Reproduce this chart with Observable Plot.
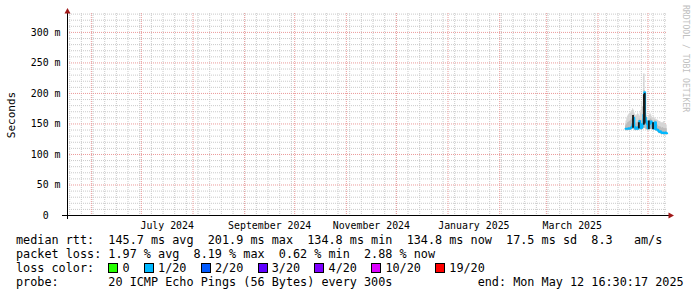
<!DOCTYPE html>
<html><head><meta charset="utf-8">
<script src="https://cdn.jsdelivr.net/npm/d3@7"></script>
<script src="https://cdn.jsdelivr.net/npm/@observablehq/plot@0.6"></script>
<style>
body{margin:0;background:#fff;}
#legend{font-family:"DejaVu Sans Mono",monospace;font-size:11.8px;line-height:13.7px;white-space:pre;color:#000;padding-left:16px;padding-top:0.4px;}
.box{display:inline-block;width:8px;height:8px;border:1px solid #000;vertical-align:-1px;margin-right:calc(2ch - 10px);}
</style></head><body><div id="chart"></div><div id="legend"></div>
<script>
// ---- data ----
const times = ["2025-04-17T12:00Z","2025-04-18T00:00Z","2025-04-18T12:00Z","2025-04-19T00:00Z","2025-04-19T12:00Z",
"2025-04-20T00:00Z","2025-04-20T12:00Z","2025-04-21T00:00Z","2025-04-21T12:00Z","2025-04-22T00:00Z",
"2025-04-22T12:00Z","2025-04-23T00:00Z","2025-04-23T12:00Z","2025-04-24T00:00Z","2025-04-24T12:00Z",
"2025-04-25T00:00Z","2025-04-25T12:00Z","2025-04-26T00:00Z","2025-04-26T12:00Z","2025-04-27T00:00Z",
"2025-04-27T12:00Z","2025-04-28T00:00Z","2025-04-28T12:00Z","2025-04-29T00:00Z","2025-04-29T12:00Z",
"2025-04-30T00:00Z","2025-04-30T12:00Z","2025-05-01T00:00Z","2025-05-01T12:00Z","2025-05-02T00:00Z",
"2025-05-02T12:00Z","2025-05-03T00:00Z","2025-05-03T12:00Z","2025-05-04T00:00Z","2025-05-04T12:00Z",
"2025-05-05T00:00Z","2025-05-05T12:00Z","2025-05-06T00:00Z","2025-05-06T12:00Z","2025-05-07T00:00Z",
"2025-05-07T12:00Z","2025-05-08T00:00Z","2025-05-08T12:00Z","2025-05-09T00:00Z","2025-05-09T12:00Z",
"2025-05-10T00:00Z","2025-05-10T12:00Z","2025-05-11T00:00Z","2025-05-11T12:00Z","2025-05-12T00:00Z",
"2025-05-12T12:00Z"];
// median rtt (ms)
const median = [142,142,142,142,143,142,143,144,146,150,160,145,142,142,144,142,146,155,150,143,145,150,165,201.9,160,
155,150,143,143,150,154,154,152,145,142,152,153,141,141,140,138,137,138,136,135,136,135,134.8,136,135,134.8];
// smoke (ping spread) outer upper and lower bounds (ms)
const smokeHi = [150,155,160,163,165,167,168,170,172,175,173,168,165,163,165,168,166,163,168,172,186,178,232,232,180,
168,163,160,162,165,168,165,162,160,162,160,158,157,157,156,155,154,154,152,152,152,154,152,150,149,148];
const smokeLo = [139,139,139,139,140,139,140,140,141,141,141,140,139,139,140,139,140,141,141,140,140,141,142,143,142,
141,140,139,139,140,141,141,141,140,139,140,140,138,138,137,135,134,135,133,132,133,132,132,133,132,132];
// inner (denser) smoke upper bound (ms)
const smokeMid = [146,148,150,152,153,154,155,156,158,160,165,155,152,150,152,153,155,158,156,152,156,158,175,205,168,
160,155,151,152,156,158,158,156,152,150,155,156,150,149,148,146,145,146,144,143,144,143,142,143,142,142];
// dense smoke cores
const darkTimes = ["2025-04-22T00:00Z","2025-04-25T12:00Z","2025-04-28T12:00Z","2025-04-29T00:00Z","2025-05-01T12:00Z","2025-05-04T00:00Z"];
const darkLo = [143,142,148,150,141,141];
const darkHi = [164,152,198,200,155,152];
// axes
const yTicks = [0,50,100,150,200,250,300];
const monthStarts = ["2024-06-01","2024-07-01","2024-08-01","2024-09-01","2024-10-01","2024-11-01","2024-12-01",
"2025-01-01","2025-02-01","2025-03-01","2025-04-01","2025-05-01"];
const labelDates = ["2024-07-16T12:00Z","2024-09-16T00:00Z","2024-11-16T00:00Z","2025-01-16T12:00Z","2025-03-16T12:00Z"];
const monthLabels = ["July 2024","September 2024","November 2024","January 2025","March 2025"];
const domainStart = "2024-05-17T16:30:00Z", domainEnd = "2025-05-12T16:30:00Z";
const yMax = 331;
// legend
const lossLabels = ["0","1/20","2/20","3/20","4/20","10/20","19/20"];
const lossColors = ["#26ff00","#00b8ff","#0059ff","#5e00ff","#7e00ff","#dd00ff","#ff0000"];
const legendLine1 = "median rtt:  145.7 ms avg  201.9 ms max  134.8 ms min  134.8 ms now  17.5 ms sd  8.3   am/s";
const legendLine2 = "packet loss: 1.97 % avg  8.19 % max  0.62 % min  2.88 % now";
const legendLine3 = "loss color:  ";
const legendLine4 = "probe:       20 ICMP Echo Pings (56 Bytes) every 300s            end: Mon May 12 16:30:17 2025";

// ---- build ----
const W = 697, H = 234, ML = 67, MR = 30, MT = 13, MB = 19;
const data = times.map((t, i) => ({t: new Date(t), med: median[i], lo: smokeLo[i], hi: smokeHi[i], mid: smokeMid[i]}));
const dark = darkTimes.map((t, i) => ({t: new Date(t), lo: darkLo[i], hi: darkHi[i]}));
const x0 = new Date(domainStart), x1 = new Date(domainEnd);
const minorY = d3.range(10, yMax, 10).filter(d => d % 50 !== 0);
const weekLines = d3.utcSunday.range(x0, x1);
const labelMap = new Map(labelDates.map((d, i) => [+new Date(d), monthLabels[i]]));

const chart = Plot.plot({
  width: W, height: H, marginLeft: ML, marginRight: MR, marginTop: MT, marginBottom: MB,
  style: {fontFamily: "'DejaVu Sans Mono', monospace", fontSize: "9.9px", color: "#000", background: "#fff", overflow: "visible"},
  x: {type: "utc", domain: [x0, x1]},
  y: {domain: [0, yMax]},
  marks: [
    Plot.ruleY(minorY, {stroke: "#cacaca", strokeDasharray: "1,1"}),
    Plot.ruleX(weekLines, {stroke: "#cacaca", strokeDasharray: "1,1"}),
    Plot.ruleY(yTicks.filter(d => d > 0), {stroke: "#eb9a9a", strokeDasharray: "1,1"}),
    Plot.ruleX(monthStarts.map(d => new Date(d + "T00:00Z")), {stroke: "#eb9a9a", strokeDasharray: "1,1"}),
    Plot.areaY(data, {x: "t", y1: "lo", y2: "hi", fill: "#d6d6d6", curve: "step"}),
    Plot.areaY(data, {x: "t", y1: "lo", y2: "mid", fill: "#bcbcbc", curve: "step"}),
    Plot.lineY(data, {x: "t", y: "med", stroke: "#00b8ff", strokeWidth: 2, curve: "step"}),
    Plot.ruleX(dark, {x: "t", y1: "lo", y2: "hi", stroke: "#1a1a1a", strokeWidth: 1.8}),
    Plot.axisY(yTicks, {tickSize: 0, tickPadding: 7, label: null, fill: "#000",
      tickFormat: d => d === 0 ? "0\u00a0\u00a0" : d + " m"}),
    Plot.axisX(labelDates.map(d => new Date(d)), {tickSize: 0, tickPadding: 6, label: null, fill: "#000",
      tickFormat: d => labelMap.get(+d)})
  ]
});
document.getElementById("chart").appendChild(chart);

// decorations: axis lines, arrows, titles
const sx = chart.scale("x"), sy = chart.scale("y");
const xl = sx.apply(x0), xr = sx.apply(x1), yb = sy.apply(0), yt = sy.apply(yMax);
const svg = d3.select(chart);
const g = svg.append("g");
g.append("line").attr("x1", xl - 5).attr("x2", xr + 3).attr("y1", yb + 0.5).attr("y2", yb + 0.5)
  .attr("stroke", "#000").attr("stroke-width", 1);
g.append("line").attr("x1", xl + 0.5).attr("x2", xl + 0.5).attr("y1", yb + 4).attr("y2", yt - 1)
  .attr("stroke", "#000").attr("stroke-width", 1);
g.append("path").attr("d", `M${xl + 0.5},${yt - 5} L${xl - 2.5},${yt + 0.5} L${xl + 3.5},${yt + 0.5} Z`).attr("fill", "#a01818");
g.append("path").attr("d", `M${xr + 7},${yb + 0.5} L${xr + 1.5},${yb - 2.5} L${xr + 1.5},${yb + 3.5} Z`).attr("fill", "#a01818");
g.append("text").text("Seconds").attr("transform", `translate(11,${(yb + yt) / 2 + 1}) rotate(-90)`)
  .attr("text-anchor", "middle").attr("dy", "0.35em").attr("font-size", "11px").attr("fill", "#000");
g.append("text").text("RRDTOOL / TOBI OETIKER").attr("transform", `translate(${W - 11},5) rotate(90)`)
  .attr("text-anchor", "start").attr("dy", "0.35em").attr("font-size", "8.1px").attr("fill", "#c0c0c0");

// legend
const leg = document.getElementById("legend");
const line = s => { const d = document.createElement("div"); d.textContent = s; leg.appendChild(d); return d; };
line(legendLine1);
line(legendLine2);
const l3 = line(legendLine3);
lossLabels.forEach((lab, i) => {
  const b = document.createElement("span"); b.className = "box"; b.style.background = lossColors[i];
  l3.appendChild(b);
  l3.appendChild(document.createTextNode(lab + (i < lossLabels.length - 1 ? "  " : "")));
});
line(legendLine4);
</script></body></html>
